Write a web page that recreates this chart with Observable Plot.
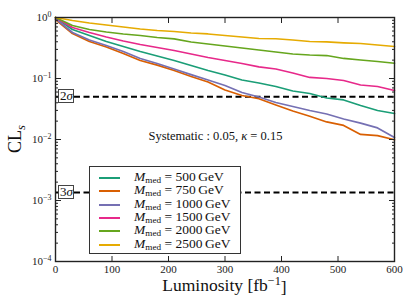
<!DOCTYPE html>
<html><head><meta charset="utf-8">
<script src="https://cdn.jsdelivr.net/npm/d3@7"></script>
<script src="https://cdn.jsdelivr.net/npm/@observablehq/plot@0.6"></script>
<style>
body{margin:0;background:#fff;}
#wrap{position:relative;width:415px;height:306px;font-family:"Liberation Serif",serif;color:#111;}
#wrap svg, #wrap svg text{font-family:"Liberation Serif",serif !important;}
.sig{position:absolute;background:#fff;border:1px solid #444;font-size:13px;line-height:12px;padding:0 1px;box-sizing:border-box;height:14px;width:16px;text-align:center;}
#legend{position:absolute;background:#fff;border:1.5px solid #333;box-sizing:border-box;}
.row{position:absolute;left:0;height:13px;width:100%;}
.sw{position:absolute;left:9px;width:21px;height:2px;top:6px;}
.lt{position:absolute;left:44px;top:0px;font-size:13.5px;white-space:nowrap;line-height:12px;height:12px;}
.lt sub{font-size:0.68em;vertical-align:-0.25em;line-height:0;}
</style></head><body><div id="wrap"></div>
<script>
// Data
const luminosity = [0,30,60,90,120,150,180,210,240,270,300,330,360,390,420,450,480,510,540,570,600];
const masses = ["500","750","1000","1500","2000","2500"];
const cl500  = [1.0,0.636,0.507,0.404,0.335,0.277,0.234,0.197,0.163,0.135,0.114,0.0945,0.0844,0.0740,0.0624,0.0568,0.0479,0.0445,0.0361,0.0299,0.0267];
const cl750  = [0.927,0.547,0.404,0.328,0.257,0.197,0.166,0.135,0.108,0.0877,0.0648,0.0526,0.0465,0.0368,0.0293,0.0241,0.0194,0.0170,0.0121,0.0116,0.0099];
const cl1000 = [0.963,0.568,0.428,0.348,0.277,0.213,0.176,0.143,0.116,0.0945,0.0767,0.0589,0.0498,0.0404,0.0348,0.0299,0.0262,0.0217,0.0186,0.0155,0.0108];
const cl1500 = [1.0,0.686,0.568,0.479,0.412,0.361,0.322,0.288,0.252,0.221,0.197,0.176,0.155,0.143,0.123,0.104,0.100,0.0927,0.0782,0.0740,0.0636];
const cl2000 = [1.0,0.739,0.636,0.578,0.537,0.507,0.470,0.445,0.397,0.368,0.341,0.316,0.293,0.272,0.252,0.243,0.238,0.213,0.201,0.190,0.178];
const cl2500 = [1.0,0.893,0.812,0.753,0.699,0.648,0.612,0.590,0.557,0.537,0.507,0.479,0.453,0.448,0.428,0.404,0.397,0.385,0.375,0.354,0.335];
const colors = ["#1b9e77","#d95f02","#7570b3","#e7298a","#66a61e","#e6ab02"];
const sigmaLevels = [0.05, 0.00135];
const sigmaLabels = ["2","3"];
const xTicks = [0,100,200,300,400,500,600];
const yTicks = [1e-4,1e-3,1e-2,1e-1,1];
const yMinor = [2,3,4,5,6,7,8,9].flatMap(m => [1e-4,1e-3,1e-2,1e-1].map(d => m*d));
const annotation = {L: 284, cl: 0.0112, text: "Systematic : 0.05, ", kappa: "κ", rest: " = 0.15"};

const series = [cl500, cl750, cl1000, cl1500, cl2000, cl2500];
const rows = [];
series.forEach((vals, i) => vals.forEach((v, j) => rows.push({L: luminosity[j], cl: v, m: masses[i]})));

const expFmt = d => "10^" + Math.round(Math.log10(d));
const FONT = "'Liberation Serif', serif";

const chart = Plot.plot({
  width: 415, height: 306,
  marginLeft: 55, marginRight: 21, marginTop: 17, marginBottom: 45,
  style: {fontFamily: FONT, fontSize: "11px", background: "white", color: "#222"},
  x: {domain: [0, 600]},
  y: {type: "log", domain: [1e-4, 1]},
  color: {domain: masses, range: colors},
  marks: [
    Plot.ruleY(sigmaLevels, {stroke: "black", strokeWidth: 2, strokeDasharray: "6,3.5"}),
    Plot.line(rows, {x: "L", y: "cl", z: "m", stroke: "m", strokeWidth: 1.7}),
    Plot.axisX({ticks: xTicks, tickSize: -5, tickPadding: 9, label: null, tickFormat: d => String(d), stroke: "#222"}),
    Plot.axisX({anchor: "top", ticks: xTicks, tickSize: -5, label: null, text: null, stroke: "#222"}),
    Plot.axisY({ticks: yTicks, tickSize: -6, tickPadding: 10, label: null, tickFormat: expFmt, stroke: "#222"}),
    Plot.axisY({ticks: yMinor, tickSize: -3, label: null, text: null, stroke: "#222"}),
    Plot.axisY({anchor: "right", ticks: yTicks, tickSize: -6, label: null, text: null, stroke: "#222"}),
    Plot.axisY({anchor: "right", ticks: yMinor, tickSize: -3, label: null, text: null, stroke: "#222"}),
    Plot.frame({stroke: "#222", strokeWidth: 1.4})
  ]
});

const svg = d3.select(chart).style("font-family", FONT);
// superscript exponents on y tick labels
svg.selectAll('g[aria-label="y-axis tick label"] text').each(function() {
  const t = this.textContent;
  if (!t.includes("^")) return;
  const [b, e] = t.split("^");
  const s = d3.select(this);
  s.text(b);
  s.append("tspan").attr("dy", "-0.5em").attr("font-size", "0.72em").text(e.replace("-", "−"));
});

const xs = chart.scale("x"), ys = chart.scale("y");

// annotation
const at = svg.append("text")
  .attr("x", xs.apply(annotation.L)).attr("y", ys.apply(annotation.cl))
  .attr("text-anchor", "middle").attr("dy", "0.35em")
  .attr("font-size", 12.5).attr("fill", "#111").style("font-family", FONT);
at.append("tspan").text(annotation.text);
at.append("tspan").attr("font-style", "italic").text(annotation.kappa);
at.append("tspan").text(annotation.rest);

// axis titles
const xl = svg.append("text").attr("x", (xs.range[0] + xs.range[1]) / 2).attr("y", 291)
  .attr("text-anchor", "middle").attr("font-size", 17.5).attr("fill", "#111").style("font-family", FONT);
xl.append("tspan").text("Luminosity [fb");
xl.append("tspan").attr("dy", "-0.45em").attr("font-size", "0.7em").text("−1");
xl.append("tspan").attr("dy", "0.45em").text("]");

const yl = svg.append("text").attr("transform", `translate(21,${(ys.range[0] + ys.range[1]) / 2}) rotate(-90)`)
  .attr("text-anchor", "middle").attr("font-size", 18).attr("fill", "#111").style("font-family", FONT);
yl.append("tspan").text("CL");
yl.append("tspan").attr("dy", "0.3em").attr("font-size", "0.7em").attr("font-style", "italic").text("s");

const wrap = document.getElementById("wrap");
wrap.appendChild(chart);

// sigma boxes
sigmaLevels.forEach((lv, i) => {
  const d = document.createElement("div");
  d.className = "sig";
  d.style.left = (xs.range[0] + 3) + "px";
  d.style.top = (ys.apply(lv) - 7) + "px";
  d.innerHTML = sigmaLabels[i] + "<i>σ</i>";
  wrap.appendChild(d);
});

// legend
const lg = document.createElement("div");
lg.id = "legend";
lg.style.left = "89px"; lg.style.top = "166px"; lg.style.width = "152px"; lg.style.height = "88px";
masses.forEach((m, i) => {
  const r = document.createElement("div");
  r.className = "row";
  r.style.top = (4 + i * 13.3) + "px";
  r.innerHTML = `<div class="sw" style="background:${colors[i]}"></div><div class="lt"><i>M</i><sub>med</sub> = ${m}&#8201;GeV</div>`;
  lg.appendChild(r);
});
wrap.appendChild(lg);
</script>
</body></html>
